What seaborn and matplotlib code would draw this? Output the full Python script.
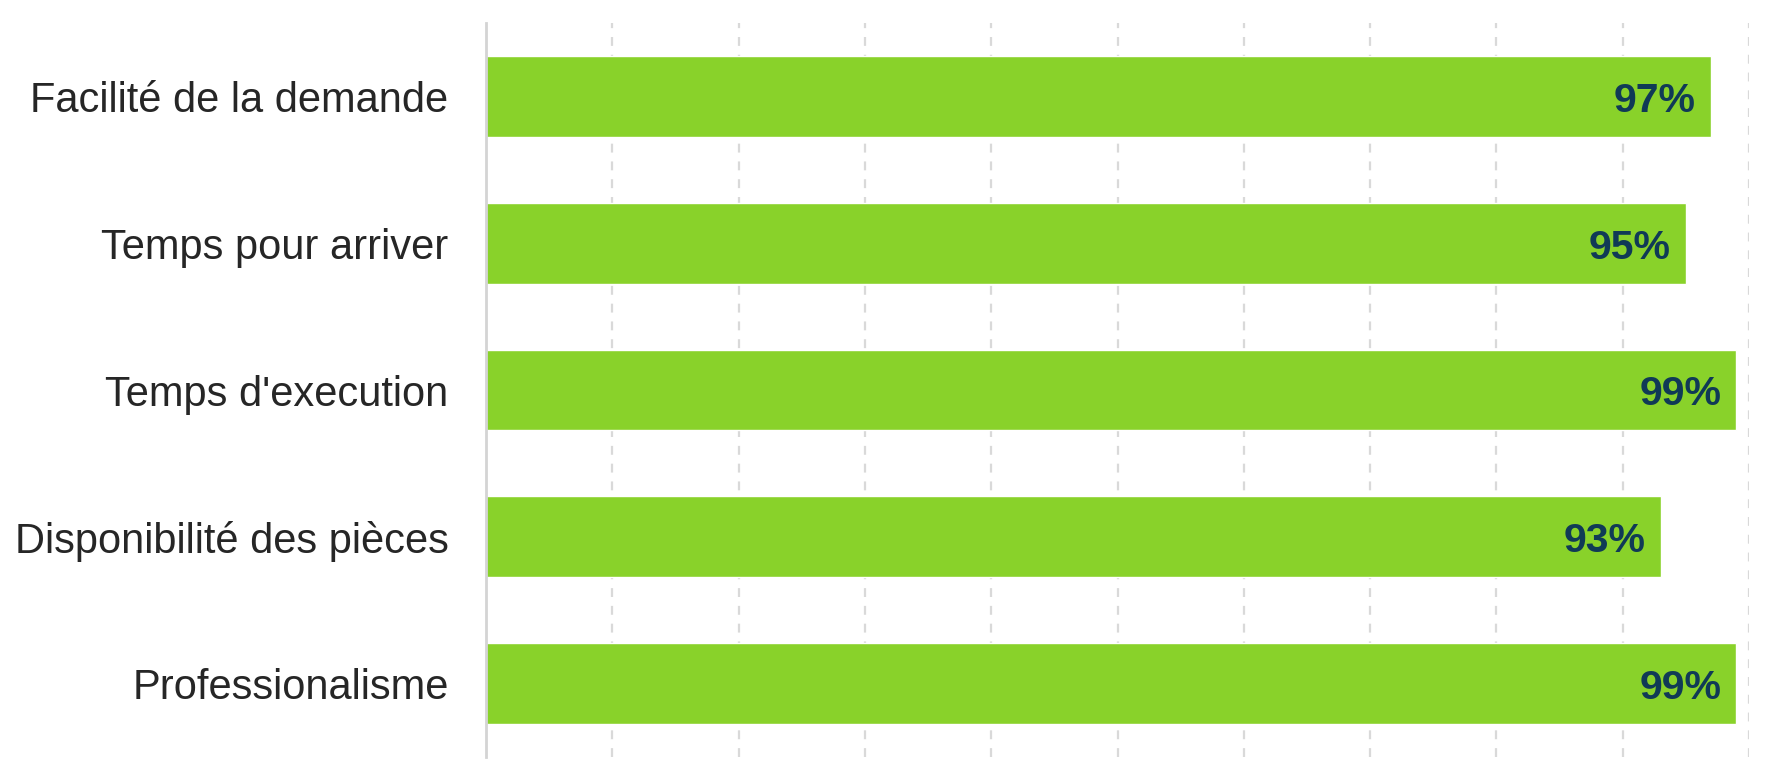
import matplotlib
matplotlib.use("Agg")
import matplotlib.pyplot as plt
import seaborn as sns
import pandas as pd

categories = ["Facilité de la demande", "Temps pour arriver", "Temps d'execution",
              "Disponibilité des pièces", "Professionalisme"]
values = [0.97, 0.95, 0.99, 0.93, 0.99]

df = pd.DataFrame({"Critere": categories, "Score": values})

sns.set_theme(style="white")
plt.rcParams["font.family"] = ["Liberation Sans", "DejaVu Sans"]

fig = plt.figure(figsize=(17.72, 7.8), dpi=100)
ax = fig.add_axes([0.2743, 0.0295, 0.7127, 0.941])

sns.barplot(data=df, x="Score", y="Critere", color="#89D22A", saturation=1,
            width=0.55, ax=ax)

# labels inside the bar ends
for i, v in enumerate(values):
    ax.text(v - 0.012, i + 0.03, f"{v:.0%}", ha="right", va="center",
            fontsize=29.5, fontweight="bold", color="#103A56")

ax.set_xlim(0, 1)
ax.set_xticks([i / 10 for i in range(11)])
ax.set_xticklabels([])
ax.xaxis.grid(True, linestyle=(0, (4, 4)), color="#d9d9d9", linewidth=1.6)
ax.set_axisbelow(True)
ax.set_xlabel("")
ax.set_ylabel("")
ax.tick_params(axis="y", length=0, pad=27, labelsize=30, labelcolor="#262626")
ax.tick_params(axis="x", length=0)

for s in ["top", "right", "bottom"]:
    ax.spines[s].set_visible(False)
ax.spines["left"].set_color("#d4d4d4")
ax.spines["left"].set_linewidth(2)

fig.savefig("out.png", dpi=100)
